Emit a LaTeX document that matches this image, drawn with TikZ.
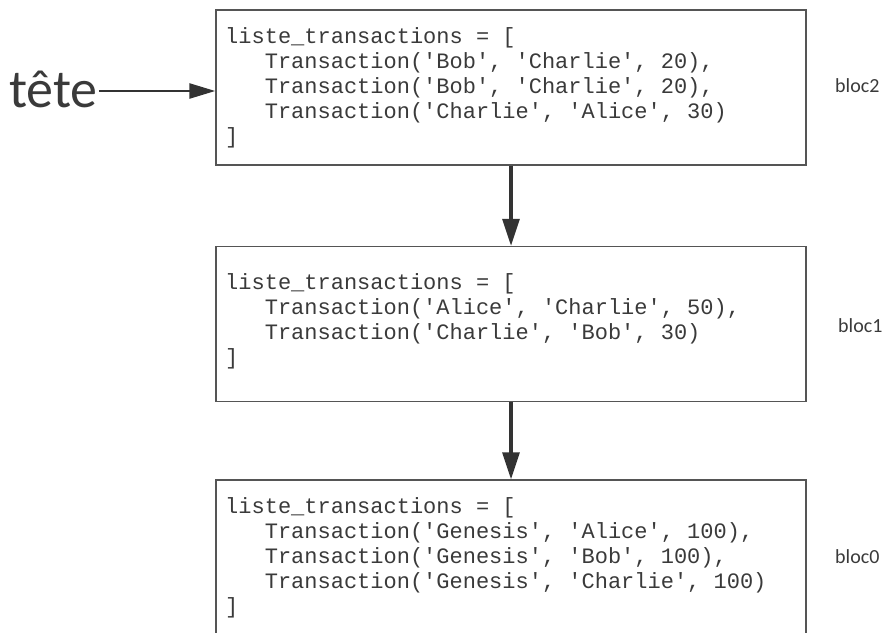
\documentclass[tikz,border=0pt]{standalone}
\usepackage{fontspec}
\setmonofont{Liberation Mono}
\newfontfamily\labfont{Carlito}
\usetikzlibrary{arrows.meta}
\definecolor{inkc}{HTML}{3A3A3A}
\definecolor{framec}{HTML}{555555}
\definecolor{arrc}{HTML}{333333}
\begin{document}
\begin{tikzpicture}[x=1pt,y=-1pt,
  blocbox/.style={draw=framec, line width=1.4pt, minimum width=590pt, minimum height=155pt, inner sep=0pt},
  code/.style={anchor=base west, inner sep=0pt, text=inkc, font=\ttfamily\fontsize{22}{25}\selectfont},
  blocname/.style={anchor=base west, inner sep=0pt, text=inkc, font=\labfont\fontsize{20}{24}\selectfont},
  vlink/.style={draw=arrc, line width=3.2pt, -{Triangle[length=27pt,width=17pt]}},
  hlink/.style={draw=arrc, line width=2.6pt, -{Triangle[length=26pt,width=15pt]}}]
\clip (0,0) rectangle (888,632);
\newcommand\ind{\hspace*{39.6pt}}
\node[blocbox] (b2) at (511,87.5) {};
\node[blocbox] (b1) at (511,324) {};
\node[blocbox] (b0) at (511,557.5) {};
\node[code] (t2) at (225,43) {\begin{tabular}[t]{@{}l@{}}
liste\_transactions = [\\
\ind Transaction('Bob', 'Charlie', 20),\\
\ind Transaction('Bob', 'Charlie', 20),\\
\ind Transaction('Charlie', 'Alice', 30)\\
]
\end{tabular}};
\node[code] (t1) at (225,289) {\begin{tabular}[t]{@{}l@{}}
liste\_transactions = [\\
\ind Transaction('Alice', 'Charlie', 50),\\
\ind Transaction('Charlie', 'Bob', 30)\\
]
\end{tabular}};
\node[code] (t0) at (225,513) {\begin{tabular}[t]{@{}l@{}}
liste\_transactions = [\\
\ind Transaction('Genesis', 'Alice', 100),\\
\ind Transaction('Genesis', 'Bob', 100),\\
\ind Transaction('Genesis', 'Charlie', 100)\\
]
\end{tabular}};
\node[blocname] (n2) at (835,92) {bloc2};
\node[blocname] (n1) at (838,332) {bloc1};
\node[blocname] (n0) at (835,563) {bloc0};
\node[anchor=base west, inner sep=0pt, text=inkc, font=\labfont\fontsize{54}{60}\selectfont] (tete) at (9,107) {tête};
\coordinate (hy) at (0,91);
\draw[hlink] ([xshift=1pt]tete.east |- hy) -- (b2.west |- hy);
\draw[vlink] (b2.south) -- (b1.north);
\draw[vlink] (b1.south) -- (b0.north);
\end{tikzpicture}
\end{document}
